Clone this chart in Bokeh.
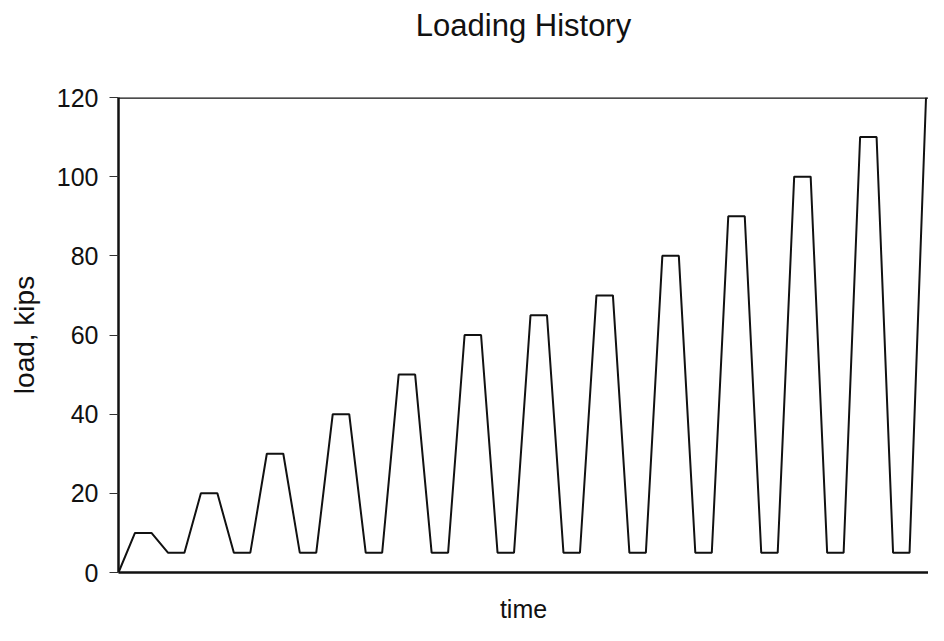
from bokeh.plotting import figure
from bokeh.models import Range1d, Span, FixedTicker, LinearAxis
from bokeh.embed import file_html
from bokeh.resources import INLINE

# Data: time step index and load (kips)
time_steps = list(range(0, 50))
load_kips = [0, 10, 10, 5, 5, 20, 20, 5, 5, 30, 30, 5, 5, 40, 40, 5, 5,
             50, 50, 5, 5, 60, 60, 5, 5, 65, 65, 5, 5, 70, 70, 5, 5,
             80, 80, 5, 5, 90, 90, 5, 5, 100, 100, 5, 5, 110, 110, 5, 5, 120]
y_ticks = [0, 20, 40, 60, 80, 100, 120]
title_text = "Loading History"

FONT = "Liberation Sans"

X_END = 49.15
p = figure(width=928, height=625, output_backend="svg", toolbar_location=None,
           x_range=Range1d(0, X_END), y_range=Range1d(0, 120),
           min_border_left=118, min_border_right=0, min_border_bottom=47,
           min_border_top=97)

p.line(time_steps, load_kips, line_color="#111111", line_width=2)

# top frame border
p.add_layout(Span(location=120, dimension="width", line_color="#111111", line_width=2.5))

# chart title drawn as the label of a bare axis above the frame
top_axis = LinearAxis(ticker=FixedTicker(ticks=[]),
                      axis_line_color=None, major_tick_line_color=None,
                      minor_tick_line_color=None, major_label_text_font_size="0px",
                      axis_label=title_text, axis_label_text_font=FONT,
                      axis_label_text_font_size="31px",
                      axis_label_text_font_style="normal",
                      axis_label_text_color="#111111", axis_label_standoff=55)
p.add_layout(top_axis, "above")

p.outline_line_color = None
p.background_fill_color = "white"
p.border_fill_color = "white"
p.xgrid.visible = False
p.ygrid.visible = False

# y axis
p.yaxis.ticker = FixedTicker(ticks=y_ticks)
p.yaxis.axis_line_width = 2.5
p.yaxis.axis_line_color = "#111111"
p.yaxis.major_tick_out = 9
p.yaxis.major_tick_in = 0
p.yaxis.minor_tick_line_color = None
p.yaxis.major_tick_line_color = "#333333"
p.yaxis.major_label_text_font = FONT
p.yaxis.major_label_text_font_size = "25px"
p.yaxis.major_label_text_color = "#111111"
p.yaxis.major_label_standoff = 11
p.yaxis.axis_label = "load, kips"
p.yaxis.axis_label_text_font = FONT
p.yaxis.axis_label_text_font_size = "28px"
p.yaxis.axis_label_text_font_style = "normal"
p.yaxis.axis_label_text_color = "#111111"
p.yaxis.axis_label_standoff = 14

# x axis (below)
xa = p.below[0]
xa.ticker = FixedTicker(ticks=[])
xa.major_tick_line_color = None
xa.minor_tick_line_color = None
xa.major_label_text_font_size = "0px"
xa.axis_line_width = 2.5
xa.axis_line_color = "#111111"
xa.axis_label = "time"
xa.axis_label_text_font = FONT
xa.axis_label_text_font_size = "25px"
xa.axis_label_text_font_style = "normal"
xa.axis_label_text_color = "#111111"
xa.axis_label_standoff = 22

open("out.html", "w").write(file_html(p, INLINE))
